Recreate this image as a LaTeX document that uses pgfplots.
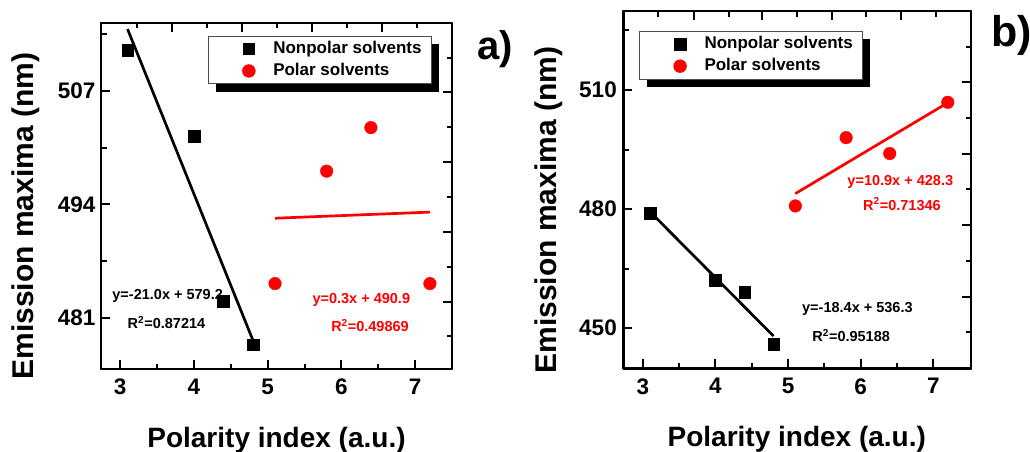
\documentclass[border=0pt]{standalone}
\usepackage{fontspec}
\setmainfont{Liberation Sans}
\usepackage{pgfplots}
\pgfplotsset{compat=1.18}
\usetikzlibrary{shadows}

\tikzset{note/.style={anchor=base, font=\bfseries\fontsize{14.5}{17}\selectfont}}
\pgfplotsset{
  panel/.style={
    scale only axis, anchor=south west,
    axis line style={line width=2.7pt, line join=round},
    tick style={line width=2pt, black},
    major tick length=9pt, minor tick length=5.5pt,
    tick align=inside,
    /pgf/number format/assume math mode=true,
  },
  main/.style={panel,
    xtick pos=left, ytick pos=left,
    ticklabel style={font=\bfseries\fontsize{22.5}{27}\selectfont},
    xticklabel style={yshift=-6.5pt},
    xlabel={Polarity index (a.u.)},
    ylabel={Emission maxima (nm)},
    xlabel style={anchor=base, font=\bfseries\fontsize{28}{33}\selectfont},
    ylabel style={anchor=base, font=\bfseries\fontsize{30}{35}\selectfont},
    legend cell align=left,
    legend style={anchor=north west, draw=black!70, line width=0.8pt, fill=white,
      inner xsep=10pt, inner ysep=5pt, row sep=6.5pt,
      font=\bfseries\fontsize{17}{20}\selectfont,
      nodes={inner sep=0pt, text height=12pt, text depth=3.5pt},
      drop shadow={shadow xshift=7.5pt, shadow yshift=-8pt, fill=black, opacity=1}},
    legend image code/.code={\path (0pt,0pt) (54pt,0pt); \draw[##1] plot coordinates {(30pt,0pt)};},
  },
  back/.style={panel, xtick pos=right, ytick pos=right, xticklabels={}, yticklabels={}},
}

\begin{document}
\begin{tikzpicture}
\useasboundingbox (0pt,0pt) rectangle (1030pt,452pt);

% ---- panel a ----
\begin{axis}[back, at={(101pt,83pt)}, width=351pt, height=346pt,
  xmin=2.74, xmax=7.5, ymin=475.1, ymax=514.8,
  xtick={3.70,4.65,5.60,6.55}, minor xtick={3.23,4.18,5.12,6.07,7.02},
  ytick={482.8,490.8,498.9,506.9}, minor ytick={478.9,486.8,494.8,502.9,510.8}]
\end{axis}
\begin{axis}[main, at={(101pt,83pt)}, width=351pt, height=346pt,
  xmin=2.74, xmax=7.5, ymin=475.1, ymax=514.8,
  xtick={3,4,5,6,7}, minor xtick={3.5,4.5,5.5,6.5},
  ytick={481,494,507}, minor ytick={474.5,487.5,500.5,513.5},
  yticklabel style={xshift=-2pt},
  xlabel style={at={(axis description cs:0.5,-0.228)}},
  ylabel style={at={(axis description cs:-0.193,0.442)}},
  legend style={at={(0.305,0.963)}}]
\addplot[only marks, mark=square*, mark size=5.8pt, black]
  coordinates {(3.1,511.7) (4.0,501.8) (4.4,482.9) (4.8,477.9)};
\addlegendentry{Nonpolar solvents}
\addplot[only marks, mark=*, mark size=6.3pt, red]
  coordinates {(5.1,484.9) (5.8,497.8) (6.4,502.8) (7.2,484.9)};
\addlegendentry{Polar solvents}
\addplot[black, line width=2.7pt, forget plot] coordinates {(3.1,514.1) (4.8,478.4)};
\addplot[red, line width=2.7pt, forget plot] coordinates {(5.1,492.4) (7.2,493.1)};
\node[note] at (axis cs:3.644,483.06) {y=-21.0x + 579.2};
\node[note] at (axis cs:3.628,479.74) {R\textsuperscript{2}=0.87214};
\node[note, red] at (axis cs:6.27,482.6) {y=0.3x + 490.9};
\node[note, red] at (axis cs:6.388,479.43) {R\textsuperscript{2}=0.49869};
\end{axis}

% ---- panel b ----
\begin{axis}[back, at={(623.3pt,83.7pt)}, width=347.7pt, height=357.3pt,
  xmin=2.73, xmax=7.52, ymin=439.9, ymax=529.9,
  xtick={3.70,4.64,5.60,6.56}, minor xtick={3.21,4.18,5.12,6.08,7.04},
  ytick={457.9,476.0,494.0,511.9}, minor ytick={449.0,466.9,485.0,502.9,520.9}]
\end{axis}
\begin{axis}[main, at={(623.3pt,83.7pt)}, width=347.7pt, height=357.3pt,
  xmin=2.73, xmax=7.52, ymin=439.9, ymax=529.9,
  xtick={3,4,5,6,7}, minor xtick={3.5,4.5,5.5,6.5},
  ytick={450,480,510}, minor ytick={465,495,525},
  yticklabel style={xshift=-3pt},
  xlabel style={at={(axis description cs:0.499,-0.219)}},
  ylabel style={at={(axis description cs:-0.1915,0.443)}},
  legend style={at={(0.046,0.944)}}]
\addplot[only marks, mark=square*, mark size=5.8pt, black]
  coordinates {(3.1,478.9) (4.0,462.1) (4.4,459.0) (4.8,446.0)};
\addlegendentry{Nonpolar solvents}
\addplot[only marks, mark=*, mark size=6.3pt, red]
  coordinates {(5.1,480.8) (5.8,498.0) (6.4,494.0) (7.2,506.9)};
\addlegendentry{Polar solvents}
\addplot[black, line width=2.7pt, forget plot] coordinates {(3.1,479.3) (4.8,448.0)};
\addplot[red, line width=2.7pt, forget plot] coordinates {(5.1,483.9) (7.2,506.8)};
\node[note, red] at (axis cs:6.546,485.87) {y=10.9x + 428.3};
\node[note, red] at (axis cs:6.569,479.75) {R\textsuperscript{2}=0.71346};
\node[note] at (axis cs:5.955,453.88) {y=-18.4x + 536.3};
\node[note] at (axis cs:5.869,446.6) {R\textsuperscript{2}=0.95188};
\end{axis}

\node[anchor=base west, inner sep=0pt, font=\bfseries\fontsize{40}{48}\selectfont] at (477pt,392.7pt) {a)};
\node[anchor=base west, inner sep=0pt, font=\bfseries\fontsize{43}{50}\selectfont] at (991pt,405.3pt) {b)};
\end{tikzpicture}
\end{document}
